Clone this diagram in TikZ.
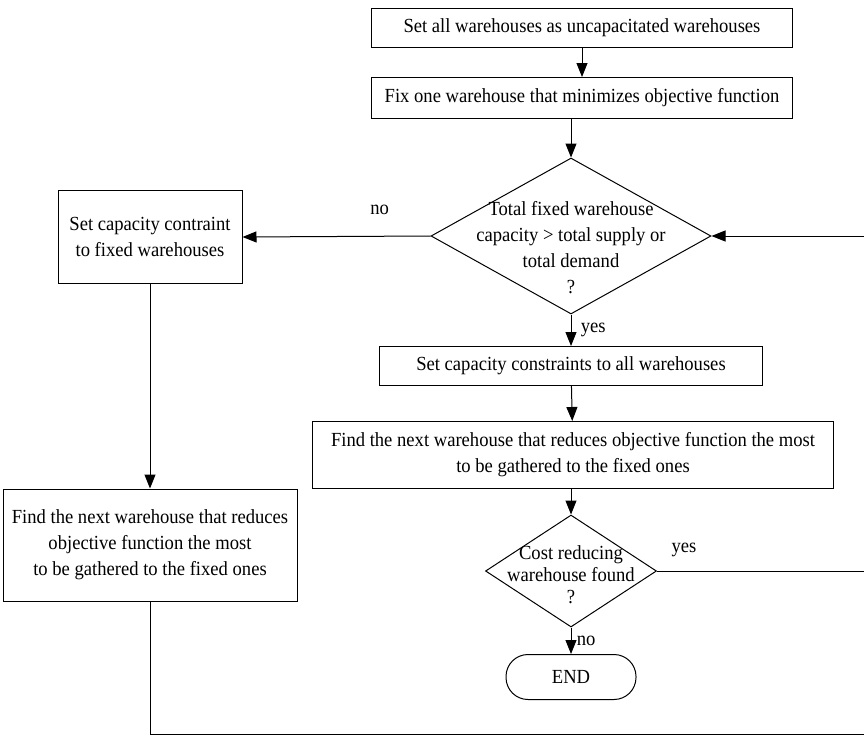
\documentclass[tikz,border=0pt]{standalone}
\usepackage{fontspec}
\setmainfont{Liberation Serif}[FakeStretch=0.93]
\usetikzlibrary{shapes.geometric,arrows.meta}

\begin{document}
\begin{tikzpicture}[x=1pt,y=-1pt,line width=1pt,
    every node/.style={font=\fontsize{20}{26}\selectfont},
    stepbox/.style={draw,rectangle,align=center,inner sep=0pt},
    query/.style={draw,diamond,inner sep=0pt},
    flow/.style={-{Triangle[length=14pt,width=11pt]}}]
    \useasboundingbox (0,0) rectangle (864,736);
    % main column
    \node[stepbox,minimum width=421,minimum height=39] (init) at (582,28) {Set all warehouses as uncapacitated warehouses};
    \node[stepbox,minimum width=421,minimum height=41] (fix) at (582,98) {Fix one warehouse that minimizes objective function};
    \node[query,minimum width=280,minimum height=156] (cap) at (571,236) {};
    \node[align=center] (captxt) at (571,248) {Total fixed warehouse\\capacity > total supply or\\total demand\\?};
    \node[stepbox,minimum width=383,minimum height=39] (setall) at (571,366) {Set capacity constraints to all warehouses};
    \node[stepbox,minimum width=521,minimum height=67] (next) at (573,455) {Find the next warehouse that reduces objective function the most\\to be gathered to the fixed ones};
    \node[query,minimum width=171,minimum height=112] (found) at (571,571) {};
    \node[align=center,font=\fontsize{20}{22}\selectfont] (foundtxt) at (571,575) {Cost reducing\\warehouse found\\?};
    \node[draw,rounded corners=22,minimum width=130,minimum height=45] (end) at (571,677) {END};
    % left column
    \node[stepbox,minimum width=184,minimum height=93] (capfix) at (150,237) {Set capacity contraint\\to fixed warehouses};
    \node[stepbox,minimum width=294,minimum height=112] (nextfix) at (150,545) {Find the next warehouse that reduces\\objective function the most\\to be gathered to the fixed ones};
    % free ends at the border
    \coordinate (backR) at (864,236);
    \coordinate (yesR) at (864,571);
    \coordinate (bottomR) at (864,734);
    % connectors
    \draw[flow] (init) -- (fix);
    \draw[flow] (cap.north |- fix.south) -- (cap.north);
    \draw[flow] (cap.south) -- node[right=6pt] {yes} (setall.north);
    \draw[flow] (setall) -- (next);
    \draw[flow] (found.north |- next.south) -- (found.north);
    \draw[flow] (found.south) -- node[right=2pt] {no} (end.north);
    \draw (found.east) -- node[pos=0.13,above=10pt] {yes} (yesR);
    \draw[flow] (backR) -- (cap.east);
    \draw[flow] (cap.west) -- node[pos=0.27,above=18pt] {no} (capfix.east);
    \draw[flow] (capfix) -- (nextfix);
    \draw (nextfix.south) |- (bottomR);
\end{tikzpicture}
\end{document}
